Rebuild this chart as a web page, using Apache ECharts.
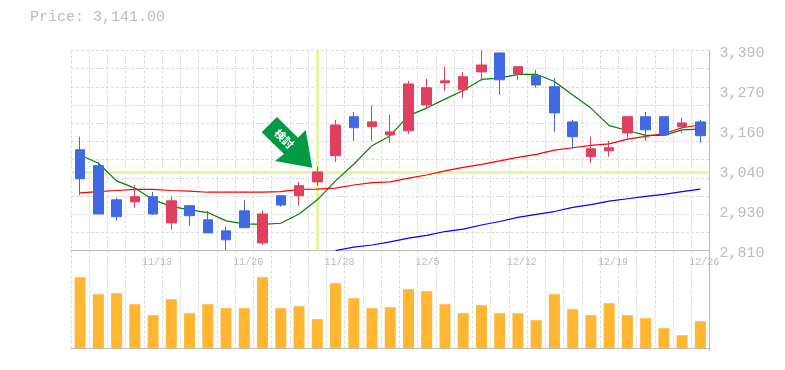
<!DOCTYPE html>
<html><head><meta charset="utf-8">
<style>html,body{margin:0;padding:0;background:#fff}#c{width:785px;height:370px}</style>
<script src="https://cdn.jsdelivr.net/npm/echarts@6/dist/echarts.min.js"></script>
</head><body><div id="c"></div>
<script>
const dates=['11/7','11/8','11/9','11/10','11/13','11/14','11/15','11/16','11/17','11/20','11/21','11/22','11/24','11/27','11/28','11/29','11/30','12/1','12/4','12/5','12/6','12/7','12/8','12/11','12/12','12/13','12/14','12/15','12/18','12/19','12/20','12/21','12/22','12/25','12/26'];
// [open, close, low, high]
const ohlc=[[3102,3018,2970,3140],[3056,2916,2916,3067],[2957,2908,2896,2963],[2951,2966,2934,3000],[2966,2916,2913,2980],[2890,2954,2870,2966],[2940,2911,2882,2942],[2899,2861,2861,2925],[2867,2841,2812,2879],[2925,2876,2876,2957],[2832,2916,2826,2925],[2969,2942,2937,2969],[2969,2998,2940,3009],[3009,3038,2998,3053],[3085,3174,3067,3189],[3198,3166,3128,3212],[3169,3183,3128,3232],[3145,3154,3122,3203],[3157,3293,3148,3302],[3232,3282,3221,3308],[3296,3302,3273,3343],[3276,3314,3253,3328],[3328,3348,3302,3390],[3383,3305,3261,3383],[3322,3343,3305,3343],[3317,3290,3282,3334],[3285,3209,3154,3311],[3183,3140,3105,3189],[3082,3105,3064,3140],[3099,3108,3082,3128],[3151,3198,3137,3198],[3198,3160,3128,3212],[3198,3145,3143,3198],[3169,3180,3151,3195],[3183,3143,3122,3189]];
const maShort=[3087,3063,3012,2991,2957,2938,2928,2920,2896,2887,2886,2889,2916,2957,3012,3060,3114,3143,3201,3223,3249,3274,3306,3310,3321,3321,3300,3261,3223,3172,3158,3144,3144,3160,3162];
const maMid=[2977,2981,2984,2987,2987,2984,2982,2979,2979,2979,2979,2981,2987,2988,2991,3000,3007,3009,3020,3029,3041,3051,3060,3070,3080,3089,3101,3108,3115,3119,3133,3141,3149,3166,3174];
const maLong=[null,null,null,null,null,null,null,null,null,null,null,null,null,null,2810,2820,2826,2835,2846,2854,2865,2872,2884,2894,2906,2915,2923,2935,2943,2953,2960,2967,2973,2981,2988];
const volume=[71,54,55,44,33,49,35,44,40,40,71,40,42,29,65,50,40,41,59,57,44,35,43,35,35,28,54,39,33,45,33,30,20,13,27];
const priceLabels=[2810,2926,3042,3158,3274,3390];
const priceGrid=[2810,2862.7,2915.5,2968.2,3020.9,3073.6,3126.4,3179.1,3231.8,3284.5,3337.3,3390];
const crossIndex=13, crossPrice=3037;
const titleText='Price: 3,141.00', arrowText='検討';

const FONT='"Liberation Mono",monospace', GREY='#bbbbbb';
const dash={color:'#dddddd',width:1,type:[3,2]};
const edgeCats=dates.concat(['']);
const chart=echarts.init(document.getElementById('c'),null,{renderer:'canvas'});
chart.setOption({
 animation:false,
 backgroundColor:'#fff',
 title:{text:titleText,left:25,top:5,textStyle:{fontFamily:FONT,fontSize:15,fontWeight:'normal',color:GREY}},
 grid:[{left:71,top:50.5,width:638.5,height:200,containLabel:false},{left:71,top:250.5,width:638.5,height:100}],
 xAxis:[
  {type:'category',gridIndex:0,data:dates,boundaryGap:true,
   axisLine:{show:true,lineStyle:{color:GREY,width:1}},axisTick:{show:false},axisLabel:{show:false},
   splitLine:{show:true,interval:0,lineStyle:dash}},
  {type:'category',gridIndex:1,data:dates,boundaryGap:true,
   axisLine:{show:true,lineStyle:{color:GREY,width:1}},axisTick:{show:false},axisLabel:{show:false},
   splitLine:{show:true,interval:0,lineStyle:dash}},
  {type:'category',gridIndex:0,position:'bottom',data:edgeCats,boundaryGap:false,
   axisLine:{show:false},axisTick:{show:false},splitLine:{show:false},
   axisLabel:{show:true,align:'left',margin:7,color:GREY,fontFamily:FONT,fontSize:10,showMinLabel:true,hideOverlap:false,
    interval:(i)=>i%5===4&&i<35,padding:[0,0,0,-2]}}
 ],
 yAxis:[
  {type:'value',gridIndex:0,position:'left',min:2810,max:3390,
   axisLine:{show:false},axisLabel:{show:false},
   axisTick:{show:false,customValues:priceGrid},
   splitLine:{show:true,lineStyle:dash}},
  {type:'value',gridIndex:0,position:'right',min:2810,max:3390,
   axisLine:{show:true,lineStyle:{color:GREY,width:1}},axisTick:{show:false,customValues:priceLabels},splitLine:{show:false},
   axisLabel:{show:true,customValues:priceLabels,margin:10,color:GREY,fontFamily:FONT,fontSize:15,showMinLabel:true,showMaxLabel:true,
    verticalAlign:'top',lineHeight:6,
    formatter:(v)=>(Math.round(v/10)*10).toLocaleString('en-US')}},
  {type:'value',gridIndex:1,position:'right',min:-2.3,max:97.7,
   axisLine:{show:true,lineStyle:{color:GREY,width:1}},axisTick:{show:false},axisLabel:{show:false},splitLine:{show:false}}
 ],
 series:[
  {type:'line',name:'cross',xAxisIndex:0,yAxisIndex:0,data:[],z:1,silent:true,showSymbol:false,
   markLine:{z:1,silent:true,symbol:'none',label:{show:false},animation:false,
    lineStyle:{color:'#e6f5a8',width:3,type:'solid'},
    data:[{yAxis:crossPrice},{xAxis:dates[crossIndex]}]}},
  {type:'bar',name:'Volume',xAxisIndex:1,yAxisIndex:2,data:volume,barWidth:11,itemStyle:{color:'#ffb733'},z:2},
  {type:'line',name:'MA short',xAxisIndex:0,yAxisIndex:0,data:maShort,showSymbol:false,lineStyle:{color:'#008000',width:1.2},z:3},
  {type:'line',name:'MA mid',xAxisIndex:0,yAxisIndex:0,data:maMid,showSymbol:false,lineStyle:{color:'#ff0000',width:1.2},z:3},
  {type:'line',name:'MA long',xAxisIndex:0,yAxisIndex:0,data:maLong,showSymbol:false,connectNulls:false,lineStyle:{color:'#0000ff',width:1.2},z:3},
  {type:'candlestick',name:'Price',xAxisIndex:0,yAxisIndex:0,data:ohlc,barWidth:10,clip:false,z:4,
   itemStyle:{color:'#e0405f',borderColor:'#e0405f',color0:'#4169e1',borderColor0:'#4169e1',borderWidth:1}},
  {type:'custom',name:'arrow',xAxisIndex:0,yAxisIndex:0,z:5,clip:false,silent:true,
   data:[[crossIndex,ohlc[crossIndex][3]]],
   renderItem:(p,api)=>{
    const c=api.coord([api.value(0),api.value(1)]);
    const tx=c[0]-5,ty=c[1]+1;
    const rel=[[-35.3,-50.7],[-50.6,-35.4],[-28.3,-13.7],[-37.3,-6.7],[0,0],[-6.6,-37.7],[-14.3,-30]];
    return {type:'group',children:[
     {type:'polygon',shape:{points:rel.map(r=>[tx+r[0],ty+r[1]])},style:{fill:'#009944'}},
     {type:'text',x:tx-28,y:ty-29,rotation:-Math.PI/4,
      style:{text:arrowText,fill:'#fff',font:'bold 11px "Noto Sans CJK JP"',align:'center',verticalAlign:'middle'}}
    ]};
   }}
 ]
});
</script></body></html>
